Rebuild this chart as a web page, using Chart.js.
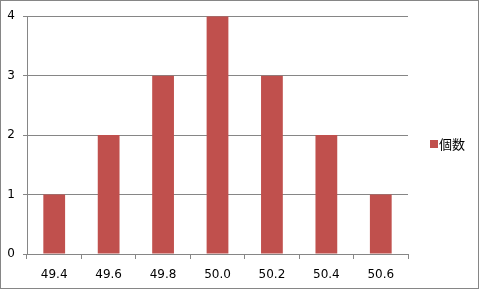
<!DOCTYPE html>
<html>
<head>
<meta charset="utf-8">
<script src="https://cdn.jsdelivr.net/npm/chart.js@4"></script>
<style>
  html, body { margin: 0; padding: 0; background: #fff; }
  #wrap { width: 477px; height: 287px; border: 1px solid #868686; background: #fff; }
</style>
</head>
<body>
<div id="wrap"><canvas id="chart" width="477" height="287"></canvas></div>
<script>
// chart data
const categories = ['49.4', '49.6', '49.8', '50.0', '50.2', '50.4', '50.6'];
const counts = [1, 2, 3, 4, 3, 2, 1];
const seriesName = '個数';
const yTicks = [0, 1, 2, 3, 4];

const BAR_COLOR = '#C0504D';
const LINE_COLOR = '#868686';

// Draw the legend on the right side (Excel style)
const sideLegend = {
    id: 'sideLegend',
    afterDraw(chart) {
        const ctx = chart.ctx;
        const ds = chart.data.datasets[0];
        ctx.save();
        ctx.fillStyle = ds.backgroundColor;
        ctx.fillRect(429, 139, 8, 8);
        ctx.fillStyle = '#000';
        ctx.font = '13px "Noto Sans CJK JP", sans-serif';
        ctx.textBaseline = 'middle';
        ctx.fillText(ds.label, 438, 143);
        ctx.restore();
    }
};

new Chart(document.getElementById('chart'), {
    type: 'bar',
    data: {
        labels: categories,
        datasets: [{
            label: seriesName,
            data: counts,
            backgroundColor: BAR_COLOR,
            categoryPercentage: 0.4,
            barPercentage: 1.0
        }]
    },
    options: {
        responsive: false,
        animation: false,
        layout: { padding: { left: 0, top: 14, right: 70, bottom: 0 } },
        plugins: {
            legend: { display: false },
            tooltip: { enabled: false }
        },
        scales: {
            x: {
                grid: {
                    offset: true,
                    drawOnChartArea: false,
                    drawTicks: true,
                    tickLength: 5,
                    color: LINE_COLOR
                },
                border: { color: LINE_COLOR },
                ticks: {
                    color: '#000',
                    padding: 9,
                    font: { family: '"DejaVu Sans", Verdana, sans-serif', size: 12 }
                },
                afterFit(scale) { scale.height = 34; }
            },
            y: {
                min: 0,
                max: 4,
                afterBuildTicks(scale) {
                    scale.ticks = yTicks.map(v => ({ value: v }));
                },
                grid: {
                    color: LINE_COLOR,
                    tickLength: 4
                },
                border: { color: LINE_COLOR },
                ticks: {
                    color: '#000',
                    padding: 8,
                    font: { family: '"DejaVu Sans", Verdana, sans-serif', size: 12 }
                },
                afterFit(scale) { scale.width = 26; }
            }
        }
    },
    plugins: [sideLegend]
});
</script>
</body>
</html>
